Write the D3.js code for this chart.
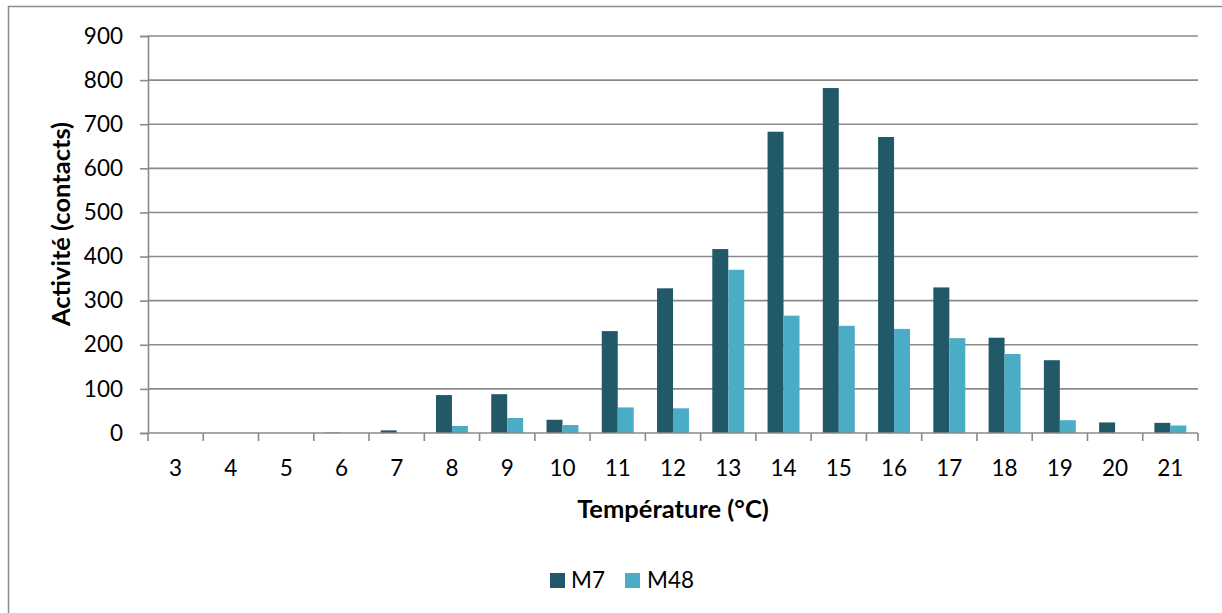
<!DOCTYPE html>
<html>
<head>
<meta charset="utf-8">
<script src="https://cdn.jsdelivr.net/npm/d3@7"></script>
<style>
  html, body { margin: 0; padding: 0; background: #fff; }
  svg { display: block; font-family: Lato, "Open Sans", sans-serif; }
</style>
</head>
<body>
<svg id="chart" width="1222" height="613"></svg>
<script>
// Température (°C) categories and activity counts per site
const temperatures = ["3","4","5","6","7","8","9","10","11","12","13","14","15","16","17","18","19","20","21"];
const seriesNames = ["M7", "M48"];
const m7Values  = [0, 0, 0, 1, 6, 86, 88, 30, 231, 328, 417, 683, 782, 671, 330, 216, 165, 24, 23];
const m48Values = [0, 0, 0, 0, 0, 16, 34, 18, 58, 56, 370, 266, 243, 236, 215, 179, 29, 0, 17];
const yTicks = [0, 100, 200, 300, 400, 500, 600, 700, 800, 900];
const colors = { M7: "#215968", M48: "#4bacc6" };

const svg = d3.select("#chart");
const W = 1222, H = 613;
const plot = { left: 148, right: 1198, top: 36, bottom: 433 };

// outer chart frame
svg.append("rect")
  .attr("x", 8.5).attr("y", 6.5)
  .attr("width", W).attr("height", H)
  .attr("fill", "#fff").attr("stroke", "#8c8c8c").attr("stroke-width", 1.5);

const x0 = d3.scaleBand().domain(temperatures).range([plot.left, plot.right]).padding(0);
const x1 = d3.scaleBand().domain(seriesNames).range([0, x0.bandwidth()])
  .paddingInner(0).paddingOuter(0.73);
const y = d3.scaleLinear().domain([0, 900]).range([plot.bottom, plot.top]);

// horizontal gridlines
svg.append("g")
  .selectAll("line")
  .data(yTicks.filter(d => d > 0))
  .join("line")
  .attr("x1", plot.left).attr("x2", plot.right)
  .attr("y1", d => y(d)).attr("y2", d => y(d))
  .attr("stroke", "#8a8a8a").attr("stroke-width", 1.6);

// bars
const rows = temperatures.map((t, i) => ({ t, M7: m7Values[i], M48: m48Values[i] }));
const groups = svg.append("g").selectAll("g")
  .data(rows)
  .join("g")
  .attr("transform", d => `translate(${x0(d.t)},0)`);
groups.selectAll("rect")
  .data(d => seriesNames.map(k => ({ key: k, value: d[k] })))
  .join("rect")
  .attr("x", d => x1(d.key))
  .attr("width", x1.bandwidth())
  .attr("y", d => y(d.value))
  .attr("height", d => y(0) - y(d.value))
  .attr("fill", d => colors[d.key]);

// y axis
const yAxis = svg.append("g")
  .attr("transform", `translate(${plot.left},0)`)
  .call(d3.axisLeft(y).tickValues(yTicks).tickSize(8).tickPadding(17));
yAxis.select(".domain").attr("stroke", "#8a8a8a").attr("stroke-width", 1.6);
yAxis.selectAll(".tick line").attr("stroke", "#8a8a8a").attr("stroke-width", 1.6);
yAxis.selectAll(".tick text").attr("font-size", 22.5).attr("fill", "#000")
  .attr("font-family", "Lato, 'Open Sans', sans-serif");

// x axis with ticks at category boundaries
const xAxis = svg.append("g")
  .attr("transform", `translate(0,${plot.bottom})`);
xAxis.append("line")
  .attr("x1", plot.left).attr("x2", plot.right)
  .attr("stroke", "#8a8a8a").attr("stroke-width", 1.6);
const boundaries = temperatures.map(t => x0(t)).concat([x0(temperatures[temperatures.length - 1]) + x0.bandwidth()]);
xAxis.selectAll("line.tk")
  .data(boundaries)
  .join("line")
  .attr("class", "tk")
  .attr("x1", d => d).attr("x2", d => d)
  .attr("y1", 0).attr("y2", 8)
  .attr("stroke", "#8a8a8a").attr("stroke-width", 1.6);
xAxis.selectAll("text")
  .data(temperatures)
  .join("text")
  .attr("x", d => x0(d) + x0.bandwidth() / 2)
  .attr("y", 43)
  .attr("text-anchor", "middle")
  .attr("font-size", 22.5)
  .attr("fill", "#000")
  .text(d => d);

// axis titles
svg.append("text")
  .attr("x", (plot.left + plot.right) / 2).attr("y", 518)
  .attr("text-anchor", "middle")
  .attr("font-size", 25.5).attr("font-weight", "bold")
  .text("Température (°C)");
svg.append("text")
  .attr("transform", "translate(70,224) rotate(-90)")
  .attr("text-anchor", "middle")
  .attr("font-size", 25.5).attr("font-weight", "bold")
  .text("Activité (contacts)");

// legend
const legend = svg.append("g");
const legendItems = [
  { key: "M7", x: 550, tx: 571 },
  { key: "M48", x: 625, tx: 647 }
];
legend.selectAll("rect")
  .data(legendItems)
  .join("rect")
  .attr("x", d => d.x).attr("y", 573)
  .attr("width", 15).attr("height", 15)
  .attr("fill", d => colors[d.key]);
legend.selectAll("text")
  .data(legendItems)
  .join("text")
  .attr("x", d => d.tx).attr("y", 588)
  .attr("font-size", 22.5)
  .attr("fill", "#000")
  .text(d => d.key);
</script>
</body>
</html>
